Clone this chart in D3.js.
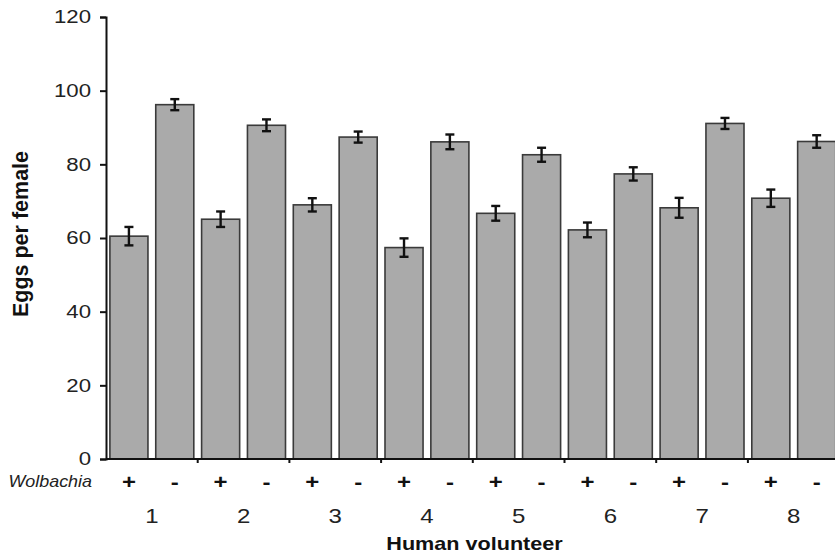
<!DOCTYPE html>
<html>
<head>
<meta charset="utf-8">
<script src="https://cdn.jsdelivr.net/npm/d3@7/dist/d3.min.js"></script>
<style>
  body { margin: 0; background: #fff; }
  svg { display: block; font-family: "Liberation Sans", Arial, sans-serif; }
</style>
</head>
<body>
<svg id="chart" width="835" height="554"></svg>
<script>
// data
const volunteers = ["1", "2", "3", "4", "5", "6", "7", "8"];
const wolbachia = ["+", "-"];
const eggsWith = [60.5, 65.1, 69.0, 57.4, 66.7, 62.2, 68.2, 70.8];
const errWith = [2.5, 2.1, 1.8, 2.5, 2.0, 2.0, 2.7, 2.35];
const eggsWithout = [96.2, 90.6, 87.4, 86.1, 82.6, 77.4, 91.1, 86.2];
const errWithout = [1.5, 1.6, 1.5, 2.0, 1.9, 1.8, 1.5, 1.7];
const yTicks = [0, 20, 40, 60, 80, 100, 120];

const rows = [];
volunteers.forEach((v, i) => {
  rows.push({ vol: v, w: "+", value: eggsWith[i], err: errWith[i] });
  rows.push({ vol: v, w: "-", value: eggsWithout[i], err: errWithout[i] });
});

const svg = d3.select("#chart");
const x0 = 106, yBase = 459, yTop = 17;
const groupW = 91.7;
const stretch = 1.2; // the original figure's text is a bit wide

const x = d3.scaleBand()
  .domain(volunteers)
  .range([x0, x0 + groupW * volunteers.length]);

const xInner = d3.scaleBand()
  .domain(wolbachia)
  .range([0, x.bandwidth()])
  .paddingInner(0.17)
  .paddingOuter(0.085);

const y = d3.scaleLinear()
  .domain([0, 120])
  .range([yBase, yTop]);

// bars
svg.append("g").selectAll("rect")
  .data(rows)
  .join("rect")
  .attr("x", d => x(d.vol) + xInner(d.w))
  .attr("y", d => y(d.value))
  .attr("width", xInner.bandwidth())
  .attr("height", d => y(0) - y(d.value))
  .attr("fill", "#aaaaaa")
  .attr("stroke", "#3a3a3a")
  .attr("stroke-width", 1.6);

// error bars
const err = svg.append("g")
  .attr("stroke", "#111")
  .attr("stroke-width", 2.4);
const cx = d => x(d.vol) + xInner(d.w) + xInner.bandwidth() / 2;
err.selectAll("line.v")
  .data(rows)
  .join("line")
  .attr("class", "v")
  .attr("x1", cx).attr("x2", cx)
  .attr("y1", d => y(d.value + d.err))
  .attr("y2", d => y(d.value - d.err));
err.selectAll("line.top")
  .data(rows)
  .join("line")
  .attr("class", "top")
  .attr("x1", d => cx(d) - 4.5).attr("x2", d => cx(d) + 4.5)
  .attr("y1", d => y(d.value + d.err))
  .attr("y2", d => y(d.value + d.err));
err.selectAll("line.bot")
  .data(rows)
  .join("line")
  .attr("class", "bot")
  .attr("x1", d => cx(d) - 4.5).attr("x2", d => cx(d) + 4.5)
  .attr("y1", d => y(d.value - d.err))
  .attr("y2", d => y(d.value - d.err));

// y axis
const yAxis = svg.append("g")
  .attr("transform", `translate(${x0},0)`)
  .call(d3.axisLeft(y).tickValues(yTicks).tickSize(6).tickPadding(9));
yAxis.select(".domain").attr("stroke", "#111").attr("stroke-width", 2);
yAxis.selectAll(".tick line").attr("stroke", "#111").attr("stroke-width", 2);
yAxis.selectAll("text")
  .attr("font-size", 18.5)
  .attr("fill", "#222")
  .attr("font-family", "Liberation Sans, Arial, sans-serif")
  .attr("x", null)
  .attr("transform", `translate(-15,0) scale(${stretch},1)`);

// x axis line with group separator ticks
const xAxis = svg.append("g");
xAxis.append("line")
  .attr("x1", x0).attr("x2", 835)
  .attr("y1", yBase).attr("y2", yBase)
  .attr("stroke", "#111").attr("stroke-width", 2);
xAxis.selectAll("line.sep")
  .data(volunteers)
  .join("line")
  .attr("class", "sep")
  .attr("x1", d => x(d) + x.bandwidth()).attr("x2", d => x(d) + x.bandwidth())
  .attr("y1", yBase).attr("y2", yBase + 4)
  .attr("stroke", "#111").attr("stroke-width", 2);

// +/- labels
svg.append("g").selectAll("text")
  .data(rows)
  .join("text")
  .attr("transform", d => `translate(${cx(d)},489) scale(${stretch},1)`)
  .attr("text-anchor", "middle")
  .attr("font-size", 20)
  .attr("font-weight", "bold")
  .attr("fill", "#111")
  .text(d => d.w);

svg.append("text")
  .attr("transform", `translate(92,487) scale(1.12,1)`)
  .attr("text-anchor", "end")
  .attr("font-size", 16)
  .attr("font-style", "italic")
  .attr("fill", "#222")
  .text("Wolbachia");

// volunteer numbers
svg.append("g").selectAll("text")
  .data(volunteers)
  .join("text")
  .attr("transform", d => `translate(${x(d) + x.bandwidth() / 2},523) scale(${stretch},1)`)
  .attr("text-anchor", "middle")
  .attr("font-size", 20)
  .attr("fill", "#222")
  .text(d => d);

// axis titles
svg.append("text")
  .attr("transform", `translate(474.5,550) scale(${stretch},1)`)
  .attr("text-anchor", "middle")
  .attr("font-size", 18)
  .attr("font-weight", "bold")
  .attr("fill", "#111")
  .text("Human volunteer");

svg.append("text")
  .attr("transform", "translate(28,234) rotate(-90)")
  .attr("text-anchor", "middle")
  .attr("font-size", 21.5)
  .attr("font-weight", "bold")
  .attr("fill", "#111")
  .text("Eggs per female");
</script>
</body>
</html>
